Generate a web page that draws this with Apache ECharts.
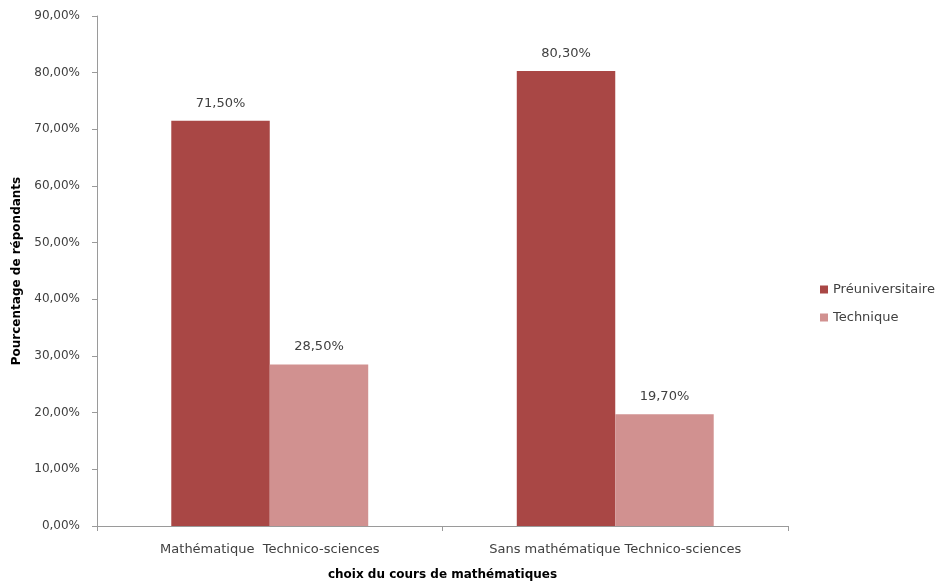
<!DOCTYPE html>
<html>
<head>
<meta charset="utf-8">
<script src="https://cdn.jsdelivr.net/npm/echarts@6/dist/echarts.min.js"></script>
<style>
  html, body { margin: 0; padding: 0; background: #fff; }
  #chart { width: 941px; height: 582px; }
</style>
</head>
<body>
<div id="chart"></div>
<script>
var categories = ['Mathématique  Technico-sciences', 'Sans mathématique Technico-sciences'];
var seriesNames = ['Préuniversitaire', 'Technique'];
var preuValues = [71.5, 80.3];
var techValues = [28.5, 19.7];
var yTicks = { min: 0, max: 90, interval: 10 };

var chart = echarts.init(document.getElementById('chart'));

function pct(v) {
    return v.toFixed(2).replace('.', ',') + '%';
}

var textColor = '#404040';
var fontFam = '"DejaVu Sans", Verdana, sans-serif';

var option = {
    animation: false,
    textStyle: { fontFamily: fontFam },
    grid: { left: 97, top: 16, right: 153, bottom: 56, outerBoundsMode: 'none', containLabel: false },
    legend: {
        orient: 'vertical',
        left: 815,
        top: 278,
        itemWidth: 8,
        itemHeight: 8,
        itemGap: 15,
        icon: 'rect',
        textStyle: { color: textColor, fontSize: 13, fontFamily: fontFam },
        data: seriesNames
    },
    xAxis: {
        type: 'category',
        data: categories,
        name: 'choix du cours de mathématiques',
        nameLocation: 'middle',
        nameGap: 43,
        nameTextStyle: { color: '#000', fontWeight: 'bold', fontSize: 12, fontFamily: fontFam },
        axisLine: { lineStyle: { color: '#9a9a9a', width: 1 } },
        axisTick: { show: true, inside: false, length: 5, lineStyle: { color: '#9a9a9a' } },
        axisLabel: { color: textColor, fontSize: 13, margin: 17, fontFamily: fontFam }
    },
    yAxis: {
        type: 'value',
        min: yTicks.min,
        max: yTicks.max,
        interval: yTicks.interval,
        name: 'Pourcentage de répondants',
        nameLocation: 'middle',
        nameRotate: 90,
        nameGap: 73,
        nameTextStyle: { color: '#000', fontWeight: 'bold', fontSize: 12, fontFamily: fontFam },
        axisLine: { show: true, lineStyle: { color: '#9a9a9a', width: 1 } },
        axisTick: { show: true, inside: false, length: 5, lineStyle: { color: '#9a9a9a' } },
        splitLine: { show: false },
        axisLabel: {
            color: textColor,
            fontSize: 12,
            margin: 17,
            fontFamily: fontFam,
            formatter: function (v) { return pct(v); }
        }
    },
    series: [
        {
            name: seriesNames[0],
            type: 'bar',
            data: preuValues,
            barGap: '0%',
            barCategoryGap: '43%',
            itemStyle: { color: '#A94745' },
            label: {
                show: true,
                position: 'top',
                distance: 11,
                color: textColor,
                fontSize: 13,
                fontFamily: fontFam,
                formatter: function (p) { return pct(p.value); }
            }
        },
        {
            name: seriesNames[1],
            type: 'bar',
            data: techValues,
            barGap: '0%',
            barCategoryGap: '43%',
            itemStyle: { color: '#D19190' },
            label: {
                show: true,
                position: 'top',
                distance: 11,
                color: textColor,
                fontSize: 13,
                fontFamily: fontFam,
                formatter: function (p) { return pct(p.value); }
            }
        }
    ]
};

chart.setOption(option);
</script>
</body>
</html>
